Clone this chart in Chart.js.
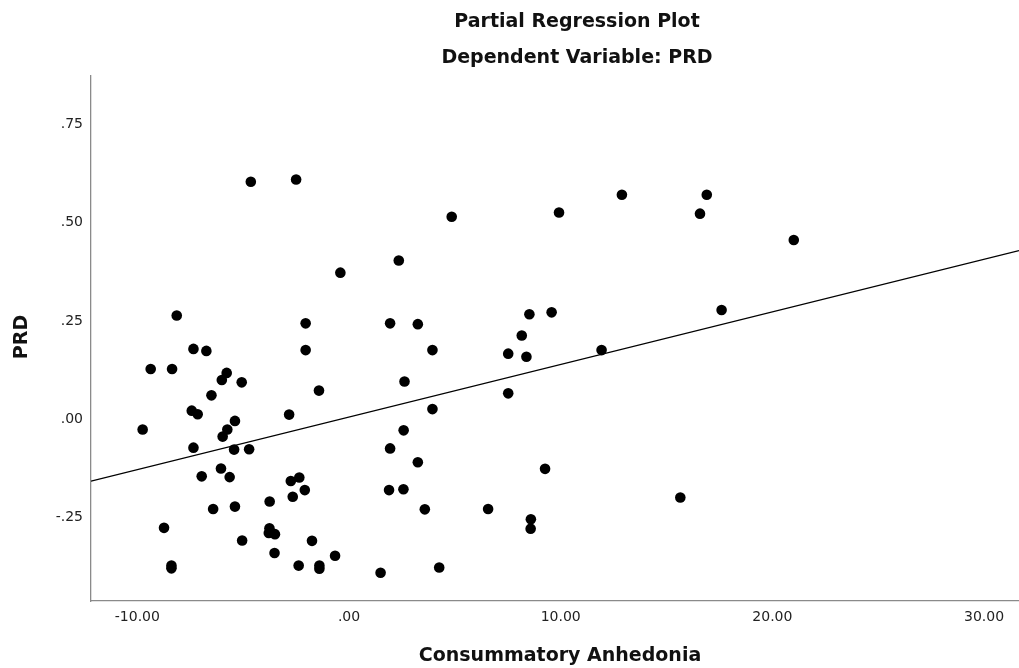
<!DOCTYPE html>
<html>
<head>
<meta charset="utf-8">
<title>Partial Regression Plot</title>
<script src="https://cdn.jsdelivr.net/npm/chart.js@4.4.1/dist/chart.umd.min.js"></script>
<style>
  html, body { margin: 0; padding: 0; background: #ffffff; overflow: hidden; }
  #wrap { position: relative; width: 1019px; height: 668px; }
</style>
</head>
<body>
<div id="wrap"><canvas id="plot"></canvas></div>
<script>
// Residualised predictor (Consummatory Anhedonia) and outcome (PRD)
const anhedonia = [
  -4.64, -2.50, -8.14, -2.05, -7.35, -6.74, -2.05, -9.37, -8.36, -6.01,
  -5.78, -5.07, -1.42, -6.50, -7.43, -7.15, -2.83, -9.75, -5.39, -5.75,
  -5.97, -7.35, -5.43, -4.72, -6.05, -6.96, -5.64, -2.75, -2.35, -2.09,
  -2.66, -3.75, -6.42, -5.39, -8.74, -3.76, -3.79, -3.50, -5.05, -1.75,
  -3.52, -8.39, -8.39, -2.38, -1.40, -1.40, -0.66, 4.85, 9.92, 2.35,
  -0.41, 1.94, 3.25, 8.52, 9.57, 8.16, 3.94, 7.52, 8.38, 2.62,
  7.52, 3.94, 2.58, 1.94, 3.25, 9.26, 1.89, 2.57, 3.58, 6.57,
  8.59, 8.58, 1.49, 4.26, 12.89, 16.90, 16.58, 21.01, 17.60, 11.93,
  15.65
];
const prd = [
  0.604, 0.610, 0.264, 0.244, 0.179, 0.174, 0.176, 0.128, 0.128, 0.100,
  0.118, 0.094, 0.073, 0.061, 0.022, 0.013, 0.012, -0.026, -0.004, -0.026,
  -0.044, -0.072, -0.077, -0.076, -0.125, -0.145, -0.147, -0.157, -0.148, -0.180,
  -0.197, -0.209, -0.228, -0.222, -0.276, -0.277, -0.289, -0.292, -0.308, -0.309,
  -0.340, -0.372, -0.379, -0.372, -0.372, -0.380, -0.347, 0.515, 0.526, 0.404,
  0.373, 0.244, 0.242, 0.267, 0.272, 0.213, 0.176, 0.167, 0.159, 0.096,
  0.066, 0.026, -0.028, -0.074, -0.109, -0.126, -0.180, -0.178, -0.229, -0.228,
  -0.254, -0.278, -0.390, -0.377, 0.571, 0.571, 0.523, 0.456, 0.278, 0.176,
  -0.199
];

// Fit line end points at the edges of the plotted range
const fitX = [-12.19, 31.65];
const fitY = [-0.157, 0.429];

// Axis ticks
const xTickValues = [-10, 0, 10, 20, 30];
const xTickLabels = ['-10.00', '.00', '10.00', '20.00', '30.00'];
const yTickValues = [-0.25, 0, 0.25, 0.5, 0.75];
const yTickLabels = ['-.25', '.00', '.25', '.50', '.75'];

// Headings
const titleLines = ['Partial Regression Plot', 'Dependent Variable: PRD'];
const xAxisTitle = 'Consummatory Anhedonia';
const yAxisTitle = 'PRD';

const points = anhedonia.map((x, i) => ({ x: x, y: prd[i] }));
const fitLine = fitX.map((x, i) => ({ x: x, y: fitY[i] }));

// Draws the two-line heading and the axis titles
const headings = {
  id: 'headings',
  afterDraw(chart, args, opts) {
    const ctx = chart.ctx;
    ctx.save();
    ctx.fillStyle = opts.color;
    ctx.font = opts.font;
    ctx.textAlign = 'center';
    ctx.textBaseline = 'middle';
    opts.lines.forEach((t, i) => ctx.fillText(t, opts.titleX, opts.titleY + i * opts.lineGap));
    ctx.fillText(opts.xTitle, opts.xTitleX, opts.xTitleY);
    ctx.translate(opts.yTitleX, opts.yTitleY);
    ctx.rotate(-Math.PI / 2);
    ctx.fillText(opts.yTitle, 0, 0);
    ctx.restore();
  }
};

// Keep the plot area flush with the fixed axis sizes
const noEdgePadding = (s) => {
  s.paddingLeft = 0;
  s.paddingRight = 0;
  s.paddingTop = 0;
  s.paddingBottom = 0;
};

const tickFont = { family: '"DejaVu Sans", sans-serif', size: 14 };

new Chart(document.getElementById('plot'), {
  type: 'scatter',
  data: {
    datasets: [
      {
        label: 'Fit',
        data: fitLine,
        showLine: true,
        borderColor: '#000000',
        borderWidth: 1.3,
        pointRadius: 0,
        fill: false,
        order: 2
      },
      {
        label: 'PRD',
        data: points,
        backgroundColor: '#000000',
        borderColor: '#000000',
        borderWidth: 0,
        pointRadius: 5.3,
        pointHoverRadius: 5.3,
        order: 1
      }
    ]
  },
  options: {
    responsive: true,
    maintainAspectRatio: false,
    animation: false,
    events: [],
    layout: { autoPadding: false, padding: { top: 76, left: 0, right: 0, bottom: 0 } },
    plugins: {
      legend: { display: false },
      title: { display: false },
      tooltip: { enabled: false },
      headings: {
        lines: titleLines,
        xTitle: xAxisTitle,
        yTitle: yAxisTitle,
        font: 'bold 19px "DejaVu Sans", sans-serif',
        color: '#111111',
        titleX: 577,
        titleY: 22,
        lineGap: 36.5,
        xTitleX: 560,
        xTitleY: 656,
        yTitleX: 22,
        yTitleY: 337
      }
    },
    scales: {
      x: {
        type: 'linear',
        min: -12.19,
        max: 31.65,
        grid: { display: false, drawTicks: false },
        border: { display: true, color: '#8a8a8a', width: 1.3 },
        afterBuildTicks: (s) => { s.ticks = xTickValues.map(v => ({ value: v })); },
        afterFit: (s) => { s.height = 67; noEdgePadding(s); },
        ticks: {
          font: tickFont,
          color: '#222222',
          padding: 8,
          maxRotation: 0,
          autoSkip: false,
          callback: (v) => xTickLabels[xTickValues.indexOf(v)]
        }
      },
      y: {
        type: 'linear',
        min: -0.462,
        max: 0.873,
        grid: { display: false, drawTicks: false },
        border: { display: true, color: '#8a8a8a', width: 1.3 },
        afterBuildTicks: (s) => { s.ticks = yTickValues.map(v => ({ value: v })); },
        afterFit: (s) => { s.width = 91; noEdgePadding(s); },
        ticks: {
          font: tickFont,
          color: '#222222',
          padding: 8,
          autoSkip: false,
          callback: (v) => yTickLabels[yTickValues.indexOf(v)]
        }
      }
    }
  },
  plugins: [headings]
});
</script>
</body>
</html>
